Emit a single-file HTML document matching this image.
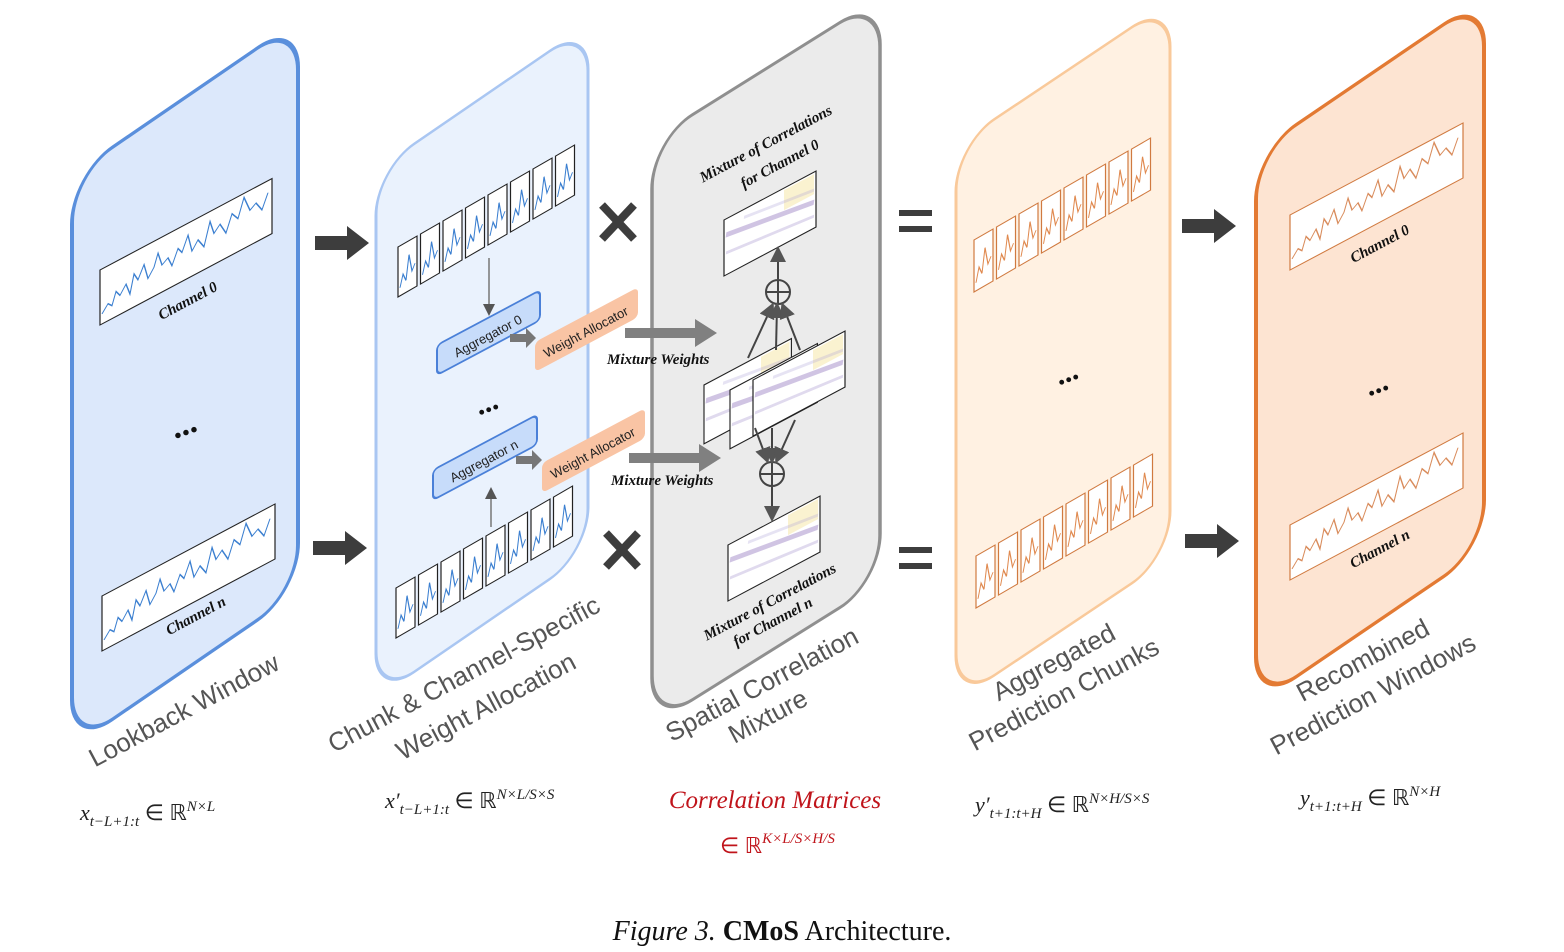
<!DOCTYPE html>
<html><head><meta charset="utf-8"><style>
html,body{margin:0;padding:0;background:#fff}
svg{display:block}
.lbl{font-family:"Liberation Sans",sans-serif;font-size:26px;fill:#555}
.ch{font-family:"Liberation Serif",serif;font-weight:bold;font-style:italic;font-size:15px;fill:#111}
.mw{font-family:"Liberation Serif",serif;font-weight:bold;font-style:italic;font-size:15px;fill:#111}
.m{font-family:"Liberation Serif",serif;font-style:italic;font-size:22px;fill:#222}
.ms{font-size:15px}
</style></head><body>
<svg width="1564" height="952" viewBox="0 0 1564 952" xmlns="http://www.w3.org/2000/svg">
<defs>
<marker id="ah" markerWidth="8" markerHeight="8" refX="6" refY="4" orient="auto"><path d="M0,0 L8,4 L0,8 z" fill="#555"/></marker>
<g id="wave">
<polyline fill="none" stroke="#3b7fd0" stroke-width="1.2" points="2,45 8,38 12,42 16,30 20,36 26,28 30,40 34,22 38,30 44,18 48,34 54,26 58,14 62,28 68,24 72,34 78,20 82,26 88,12 92,30 98,22 104,32 110,10 114,24 120,18 126,30 132,14 138,22 144,4 150,20 156,16 162,26 168,12"/>
</g>
<g id="wave2">
<polyline fill="none" stroke="#d98c5c" stroke-width="1.2" points="2,45 8,38 12,42 16,30 20,36 26,28 30,40 34,22 38,30 44,18 48,34 54,26 58,14 62,28 68,24 72,34 78,20 82,26 88,12 92,30 98,22 104,32 110,10 114,24 120,18 126,30 132,14 138,22 144,4 150,20 156,16 162,26 168,12"/>
</g>
<g id="chunk"><rect x="0" y="0" width="19" height="50" fill="#fff" stroke="#222" stroke-width="1.2"/><polyline fill="none" stroke="#3b7fd0" stroke-width="1.1" points="2,42 5,30 8,38 11,14 14,32 17,26"/></g>
<g id="chunk2"><rect x="0" y="0" width="19" height="52" fill="#fff" stroke="#d07a40" stroke-width="1.2"/><polyline fill="none" stroke="#e08a50" stroke-width="1.1" points="2,44 5,30 8,38 11,14 14,32 17,26"/></g>
<g id="heat"><rect x="0" y="0" width="92" height="56" fill="#fff" stroke="#222" stroke-width="1.2"/>
<rect x="60" y="2" width="30" height="20" fill="#f7eab0" opacity=".6"/>
<line x1="2" y1="16" x2="90" y2="30" stroke="#7a5ab0" stroke-width="5" opacity=".35"/>
<line x1="2" y1="34" x2="90" y2="44" stroke="#9a86c8" stroke-width="3" opacity=".3"/>
<line x1="20" y1="8" x2="90" y2="18" stroke="#b0a6d8" stroke-width="3" opacity=".3"/></g>
</defs>

<!-- Panels -->
<g transform="translate(72,175) skewY(-34.4)"><rect x="0" y="0" width="226" height="572" rx="40" ry="48" fill="#dce8fb" stroke="#5a8fdc" stroke-width="4"/></g>
<g transform="translate(376,170) skewY(-34.4)"><rect x="0" y="0" width="212" height="528" rx="38" ry="45" fill="#eaf2fd" stroke="#a9c6f2" stroke-width="3"/></g>
<g transform="translate(652,140) skewY(-32)"><rect x="0" y="0" width="228" height="585" rx="40" ry="48" fill="#ebebeb" stroke="#8f8f8f" stroke-width="3.5"/></g>
<g transform="translate(956,145) skewY(-33.8)"><rect x="0" y="0" width="214" height="556" rx="38" ry="46" fill="#fff1e2" stroke="#f9c99a" stroke-width="3"/></g>
<g transform="translate(1256,152) skewY(-34.2)"><rect x="0" y="0" width="228" height="552" rx="40" ry="48" fill="#fde4d2" stroke="#e37a33" stroke-width="4"/></g>

<!-- Panel 1 charts -->
<g transform="translate(100,270) skewY(-28)"><rect width="172" height="55" fill="#fff" stroke="#222" stroke-width="1.2"/><use href="#wave"/></g>
<text class="ch" transform="translate(190,305) rotate(-28)" text-anchor="middle">Channel 0</text>
<g transform="translate(102,596) skewY(-28)"><rect width="173" height="55" fill="#fff" stroke="#222" stroke-width="1.2"/><use href="#wave"/></g>
<text class="ch" transform="translate(198,620) rotate(-28)" text-anchor="middle">Channel n</text>
<text x="185" y="435" font-size="34" font-weight="bold" text-anchor="middle" fill="#111" transform="rotate(-20 185 430)">...</text>

<!-- Panel 2 chunks -->
<g transform="translate(398,247) skewY(-30)">
<use href="#chunk" x="0"/><use href="#chunk" x="22.5"/><use href="#chunk" x="45"/><use href="#chunk" x="67.5"/><use href="#chunk" x="90"/><use href="#chunk" x="112.5"/><use href="#chunk" x="135"/><use href="#chunk" x="157.5"/></g>
<g transform="translate(396,588) skewY(-30)">
<use href="#chunk" x="0"/><use href="#chunk" x="22.5"/><use href="#chunk" x="45"/><use href="#chunk" x="67.5"/><use href="#chunk" x="90"/><use href="#chunk" x="112.5"/><use href="#chunk" x="135"/><use href="#chunk" x="157.5"/></g>
<line x1="489" y1="258" x2="489" y2="313" stroke="#777" stroke-width="1.5" marker-end="url(#ah)"/>
<line x1="491" y1="527" x2="491" y2="490" stroke="#777" stroke-width="1.5" marker-end="url(#ah)"/>
<!-- aggregators -->
<g transform="translate(437,345) skewY(-28)"><rect width="103" height="30" rx="5" fill="#c7dcfa" stroke="#4a80d8" stroke-width="2"/></g>
<text transform="translate(490,340) rotate(-28)" text-anchor="middle" font-family="Liberation Sans,sans-serif" font-size="13" fill="#222">Aggregator 0</text>
<g transform="translate(535,342) skewY(-28)"><rect width="103" height="30" rx="5" fill="#f9c4a4"/></g>
<text transform="translate(588,336) rotate(-28)" text-anchor="middle" font-family="Liberation Sans,sans-serif" font-size="13" fill="#222">Weight Allocator</text>
<g transform="translate(433,470) skewY(-28)"><rect width="104" height="30" rx="5" fill="#c7dcfa" stroke="#4a80d8" stroke-width="2"/></g>
<text transform="translate(486,465) rotate(-28)" text-anchor="middle" font-family="Liberation Sans,sans-serif" font-size="13" fill="#222">Aggregator n</text>
<g transform="translate(542,463) skewY(-28)"><rect width="103" height="30" rx="5" fill="#f9c4a4"/></g>
<text transform="translate(595,457) rotate(-28)" text-anchor="middle" font-family="Liberation Sans,sans-serif" font-size="13" fill="#222">Weight Allocator</text>
<path d="M510,334 h16 v-6 l10,10 l-10,10 v-6 h-16z" fill="#777"/>
<path d="M516,456 h16 v-6 l10,10 l-10,10 v-6 h-16z" fill="#777"/>
<text x="487" y="412" font-size="30" font-weight="bold" text-anchor="middle" fill="#111" transform="rotate(-20 487 405)">...</text>

<!-- Mixture weight arrows -->
<path d="M625,328 h70 v-9 l22,14 l-22,14 v-9 h-70z" fill="#808080"/>
<path d="M629,453 h70 v-9 l22,14 l-22,14 v-9 h-70z" fill="#808080"/>
<text class="mw" x="607" y="364">Mixture Weights</text>
<text class="mw" x="611" y="485">Mixture Weights</text>

<!-- big arrows -->
<path d="M315,236 h32 v-10 l22,17 l-22,17 v-10 h-32z" fill="#3d3d3d"/>
<path d="M313,541 h32 v-10 l22,17 l-22,17 v-10 h-32z" fill="#3d3d3d"/>
<path d="M1182,219 h32 v-10 l22,17 l-22,17 v-10 h-32z" fill="#3d3d3d"/>
<path d="M1185,534 h32 v-10 l22,17 l-22,17 v-10 h-32z" fill="#3d3d3d"/>
<!-- x signs -->
<g stroke="#3d3d3d" stroke-width="8"><line x1="602" y1="205" x2="634" y2="239"/><line x1="634" y1="205" x2="602" y2="239"/>
<line x1="606" y1="533" x2="638" y2="567"/><line x1="638" y1="533" x2="606" y2="567"/></g>
<!-- equals -->
<g fill="#3d3d3d"><rect x="899" y="210" width="33" height="6"/><rect x="899" y="226" width="33" height="6"/>
<rect x="899" y="547" width="33" height="6"/><rect x="899" y="563" width="33" height="6"/></g>

<!-- Panel 3 -->
<text class="ch" font-size="14" transform="translate(768,148) rotate(-28)" text-anchor="middle">Mixture of Correlations</text>
<text class="ch" font-size="14" transform="translate(782,168) rotate(-28)" text-anchor="middle">for Channel 0</text>
<g transform="translate(724,220) skewY(-28)"><use href="#heat"/></g>
<g transform="translate(704,385) skewY(-28)"><use href="#heat" transform="scale(0.95,1.05)"/></g>
<g transform="translate(730,390) skewY(-28)"><use href="#heat" transform="scale(0.95,1.05)"/></g>
<g transform="translate(753,380) skewY(-28)"><use href="#heat"/></g>
<g transform="translate(728,545) skewY(-28)"><use href="#heat"/></g>
<g stroke="#444" stroke-width="2" fill="none">
<circle cx="778" cy="292" r="12"/><line x1="766" y1="292" x2="790" y2="292"/><line x1="778" y1="280" x2="778" y2="304"/>
<circle cx="772" cy="474" r="12"/><line x1="760" y1="474" x2="784" y2="474"/><line x1="772" y1="462" x2="772" y2="486"/>
</g>
<g stroke="#444" stroke-width="2" marker-end="url(#ah)">
<line x1="778" y1="279" x2="778" y2="250"/>
<line x1="748" y1="358" x2="772" y2="306"/><line x1="776" y1="350" x2="777" y2="306"/><line x1="800" y1="350" x2="783" y2="306"/>
<line x1="755" y1="428" x2="767" y2="460"/><line x1="772" y1="428" x2="772" y2="460"/><line x1="795" y1="420" x2="777" y2="460"/>
<line x1="772" y1="487" x2="772" y2="518"/>
</g>
<text class="ch" font-size="14" transform="translate(772,606) rotate(-28)" text-anchor="middle">Mixture of Correlations</text>
<text class="ch" font-size="14" transform="translate(775,626) rotate(-28)" text-anchor="middle">for Channel n</text>

<!-- Panel 4 chunks -->
<g transform="translate(974,240) skewY(-30)">
<use href="#chunk2" x="0"/><use href="#chunk2" x="22.5"/><use href="#chunk2" x="45"/><use href="#chunk2" x="67.5"/><use href="#chunk2" x="90"/><use href="#chunk2" x="112.5"/><use href="#chunk2" x="135"/><use href="#chunk2" x="157.5"/></g>
<g transform="translate(976,556) skewY(-30)">
<use href="#chunk2" x="0"/><use href="#chunk2" x="22.5"/><use href="#chunk2" x="45"/><use href="#chunk2" x="67.5"/><use href="#chunk2" x="90"/><use href="#chunk2" x="112.5"/><use href="#chunk2" x="135"/><use href="#chunk2" x="157.5"/></g>
<text x="1067" y="382" font-size="30" font-weight="bold" text-anchor="middle" fill="#111" transform="rotate(-20 1067 375)">...</text>

<!-- Panel 5 charts -->
<g transform="translate(1290,215) skewY(-28)"><rect width="173" height="55" fill="#fff" stroke="#d07a40" stroke-width="1.2"/><use href="#wave2"/></g>
<text class="ch" transform="translate(1382,248) rotate(-28)" text-anchor="middle">Channel 0</text>
<g transform="translate(1290,525) skewY(-28)"><rect width="173" height="55" fill="#fff" stroke="#d07a40" stroke-width="1.2"/><use href="#wave2"/></g>
<text class="ch" transform="translate(1382,553) rotate(-28)" text-anchor="middle">Channel n</text>
<text x="1377" y="393" font-size="30" font-weight="bold" text-anchor="middle" fill="#111" transform="rotate(-20 1377 386)">...</text>

<!-- panel labels -->
<text class="lbl" transform="translate(188,718) rotate(-28)" text-anchor="middle">Lookback Window</text>
<text class="lbl" transform="translate(468,682) rotate(-28)" text-anchor="middle">Chunk &amp; Channel-Specific</text>
<text class="lbl" transform="translate(490,714) rotate(-28)" text-anchor="middle">Weight Allocation</text>
<text class="lbl" transform="translate(766,692) rotate(-28)" text-anchor="middle">Spatial Correlation</text>
<text class="lbl" transform="translate(772,724) rotate(-28)" text-anchor="middle">Mixture</text>
<text class="lbl" transform="translate(1058,670) rotate(-28)" text-anchor="middle">Aggregated</text>
<text class="lbl" transform="translate(1068,702) rotate(-28)" text-anchor="middle">Prediction Chunks</text>
<text class="lbl" transform="translate(1367,668) rotate(-28)" text-anchor="middle">Recombined</text>
<text class="lbl" transform="translate(1377,702) rotate(-28)" text-anchor="middle">Prediction Windows</text>

<!-- math -->
<text class="m" x="80" y="820">x<tspan class="ms" dy="6">t−L+1:t</tspan><tspan dy="-6" font-style="normal"> ∈ ℝ</tspan><tspan class="ms" dy="-9">N×L</tspan></text>
<text class="m" x="385" y="808">x′<tspan class="ms" dy="6">t−L+1:t</tspan><tspan dy="-6" font-style="normal"> ∈ ℝ</tspan><tspan class="ms" dy="-9">N×L/S×S</tspan></text>
<text x="775" y="808" text-anchor="middle" font-family="Liberation Serif,serif" font-style="italic" font-size="25" fill="#c0141b">Correlation Matrices</text>
<text x="720" y="853" font-family="Liberation Serif,serif" font-size="22" fill="#c0141b">∈ ℝ<tspan font-style="italic" font-size="15" dy="-10">K×L/S×H/S</tspan></text>
<text class="m" x="975" y="812">y′<tspan class="ms" dy="6">t+1:t+H</tspan><tspan dy="-6" font-style="normal"> ∈ ℝ</tspan><tspan class="ms" dy="-9">N×H/S×S</tspan></text>
<text class="m" x="1300" y="805">y<tspan class="ms" dy="6">t+1:t+H</tspan><tspan dy="-6" font-style="normal"> ∈ ℝ</tspan><tspan class="ms" dy="-9">N×H</tspan></text>

<text x="782" y="940" text-anchor="middle" font-family="Liberation Serif,serif" font-size="28" fill="#111"><tspan font-style="italic">Figure 3.</tspan> <tspan font-weight="bold">CMoS</tspan> Architecture.</text>
</svg>
</body></html>
